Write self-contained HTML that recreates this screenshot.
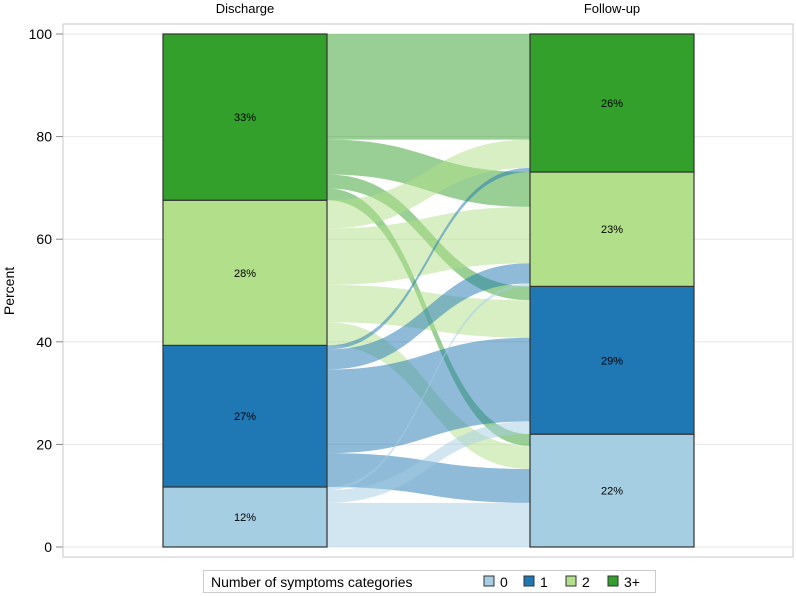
<!DOCTYPE html>
<html><head><meta charset="utf-8"><style>
body{margin:0;background:#fff;}
svg{display:block;font-family:"Liberation Sans",Arial,sans-serif;}
</style></head><body>
<svg id="chart" width="796" height="596" viewBox="0 0 796 596" xmlns="http://www.w3.org/2000/svg"></svg>
<script>
const categories = ['0','1','2','3+'];
const stages = ['Discharge','Follow-up'];
const colors = ['#a6cee3','#1f78b4','#b2df8a','#33a02c'];
// flows[source][target] in percent (source = discharge cat, target = follow-up cat)
const flowFrom0 = [8.6, 2.5, 0.6, 0];
const flowFrom1 = [6.6, 16.3, 3.9, 0.8];
const flowFrom2 = [4.5, 7.3, 11.0, 5.5];
const flowFrom3 = [2.3, 2.7, 6.8, 20.6];
const leftLabels = ['12%','27%','28%','33%'];
const rightLabels = ['22%','29%','23%','26%'];
const yTicks = [0,20,40,60,80,100];
const flows = [flowFrom0, flowFrom1, flowFrom2, flowFrom3];

const NS='http://www.w3.org/2000/svg';
const svg=document.getElementById('chart');
function mk(tag,attrs,parent){const e=document.createElementNS(NS,tag);for(const k in attrs)e.setAttribute(k,attrs[k]);(parent||svg).appendChild(e);return e;}
const y0=547,y100=34;
function yScale(p){return y0-(y0-y100)*p/100;}
const barL={x0:163,x1:327}, barR={x0:530,x1:694};

const frame=mk('rect',{x:63,y:24,width:730,height:533,fill:'none',stroke:'#c8c8c8'});


yTicks.forEach(t=>{
  const y=yScale(t);
  const g=mk('line',{x1:63,x2:793,y1:y,y2:y,stroke:'#e6e6e6'});
  
  
  const tk=mk('line',{x1:56,x2:63,y1:y,y2:y,stroke:'#888'});
  
  
  const tx=mk('text',{x:52,y:y+5,'text-anchor':'end','font-size':14,fill:'#000'});
  tx.textContent=t;
  
  
});
const yt=mk('text',{x:0,y:0,transform:'translate(14,291) rotate(-90)','text-anchor':'middle','font-size':14});
yt.textContent='Percent';



const leftTot=flows.map(r=>r.reduce((a,b)=>a+b,0));
const rightTot=categories.map((c,j)=>flows.reduce((a,r)=>a+r[j],0));
const leftBase=[],rightBase=[];let acc=0;
for(let i=0;i<4;i++){leftBase.push(acc);acc+=leftTot[i];}
acc=0;for(let j=0;j<4;j++){rightBase.push(acc);acc+=rightTot[j];}
const sumL=leftTot.reduce((a,b)=>a+b,0), sumR=rightTot.reduce((a,b)=>a+b,0);
function nl(p){return p*100/sumL;} function nr(p){return p*100/sumR;}

const leftCursor=leftBase.map((b,i)=>b+leftTot[i]);
const rightCursor=rightBase.map((b,j)=>b+rightTot[j]);
const rightStart={};
for(let j=3;j>=0;j--){let c=rightCursor[j];for(let i=3;i>=0;i--){rightStart[i+'_'+j]=c;c-=flows[i][j];}}
const xm=(barL.x1+barR.x0)/2;
for(let i=3;i>=0;i--){
  let c=leftCursor[i];
  for(let j=3;j>=0;j--){
    const v=flows[i][j]; if(v<=0){continue;}
    const lt=yScale(nl(c)), lb=yScale(nl(c-v));
    const rs=rightStart[i+'_'+j];
    const rt=yScale(nr(rs)), rb=yScale(nr(rs-v));
    c-=v;
    const d=`M${barL.x1},${lt} C${xm},${lt} ${xm},${rt} ${barR.x0},${rt} L${barR.x0},${rb} C${xm},${rb} ${xm},${lb} ${barL.x1},${lb} Z`;
    const p=mk('path',{d:d,fill:colors[i],'fill-opacity':0.5});
    
    
  }
}
function bars(bar,tot,base,norm,labels,stage){
  for(let i=0;i<4;i++){
    const top=yScale(norm(base[i]+tot[i])), bot=yScale(norm(base[i]));
    const r=mk('rect',{x:bar.x0,y:top,width:bar.x1-bar.x0,height:bot-top,fill:colors[i],stroke:'#333','stroke-width':1.2});
    
    
    const t=mk('text',{x:(bar.x0+bar.x1)/2,y:(top+bot)/2+4,'text-anchor':'middle','font-size':11});
    t.textContent=labels[i];
    
    
  }
  const h=mk('text',{x:(bar.x0+bar.x1)/2,y:13,'text-anchor':'middle','font-size':13});
  h.textContent=stage==='left'?stages[0]:stages[1];
  
  
}
bars(barL,leftTot,leftBase,nl,leftLabels,'left');
bars(barR,rightTot,rightBase,nr,rightLabels,'right');

const lg=mk('g',{});


mk('rect',{x:203.5,y:570.5,width:452,height:22,fill:'#fff',stroke:'#ccc'},lg);
const lt=mk('text',{x:211,y:587,'font-size':14},lg);
lt.textContent='Number of symptoms categories';
const sx=[484,524,566,608];
categories.forEach((c,i)=>{
  const s=mk('rect',{x:sx[i],y:576,width:10,height:10,fill:colors[i],stroke:'#333'},lg);
  
  
  const t=mk('text',{x:sx[i]+16,y:587,'font-size':14},lg);
  t.textContent=c;
  
  
});
</script>
</body></html>
